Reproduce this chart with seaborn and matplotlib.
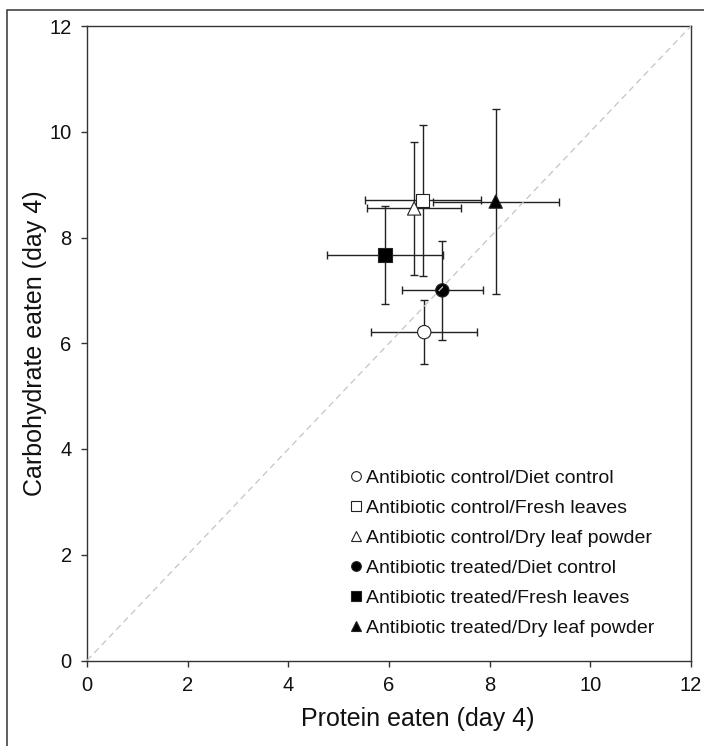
import numpy as np
import pandas as pd
import matplotlib
matplotlib.use("Agg")
import matplotlib.pyplot as plt
from matplotlib.lines import Line2D
from matplotlib.patches import Rectangle
import seaborn as sns

# ---- data ----
groups = [
    "Antibiotic control/Diet control",
    "Antibiotic control/Fresh leaves",
    "Antibiotic control/Dry leaf powder",
    "Antibiotic treated/Diet control",
    "Antibiotic treated/Fresh leaves",
    "Antibiotic treated/Dry leaf powder",
]
protein = [6.70, 6.67, 6.50, 7.06, 5.92, 8.12]
protein_err = [1.05, 1.15, 0.93, 0.80, 1.15, 1.25]
carbohydrate = [6.21, 8.70, 8.55, 7.00, 7.67, 8.68]
carbohydrate_err = [0.60, 1.43, 1.25, 0.93, 0.92, 1.75]
marker_shapes = ["o", "s", "^", "o", "s", "^"]
fill_colors = ["white", "white", "white", "black", "black", "black"]
axis_ticks = [0, 2, 4, 6, 8, 10, 12]

df = pd.DataFrame({"group": groups, "protein": protein, "carb": carbohydrate,
                   "perr": protein_err, "cerr": carbohydrate_err})

sns.set_theme(style="ticks")
plt.rcParams["font.family"] = ["Liberation Sans", "DejaVu Sans"]

fig = plt.figure(figsize=(7.04, 7.46), dpi=100)
ax = fig.add_axes([87/704, 1 - 660.5/746, (691-87)/704, (660.5-26)/746])

dark = "#222222"
# error bars
ax.errorbar(df["protein"], df["carb"], xerr=df["perr"], yerr=df["cerr"],
            fmt="none", ecolor=dark, elinewidth=1.0, capsize=2.7,
            capthick=1.0, zorder=2)

# markers
sns.scatterplot(data=df, x="protein", y="carb", hue="group", style="group",
                palette=dict(zip(groups, fill_colors)),
                markers=dict(zip(groups, marker_shapes)),
                s=92, edgecolor=dark, linewidth=0.8, legend=False, ax=ax, zorder=3)

# diagonal reference line
ax.plot([0, 12], [0, 12], color="#c4c4c4", lw=0.9, ls=(0, (5, 3.5)), zorder=4)

ax.set_xlim(0, 12)
ax.set_ylim(0, 12)
ax.set_xticks(axis_ticks)
ax.set_yticks(axis_ticks)
ax.tick_params(axis="both", labelsize=14.5, length=4, width=1.0, color="#333333",
               labelcolor="#111111")
ax.tick_params(axis="y", pad=7)
ax.tick_params(axis="x", pad=7.5)
for sp in ax.spines.values():
    sp.set_visible(True)
    sp.set_color("#333333")
    sp.set_linewidth(1.0)

ax.set_xlabel("Protein eaten (day 4)", fontsize=18, color="#111111", labelpad=8, x=0.548)
ax.set_ylabel("Carbohydrate eaten (day 4)", fontsize=18, color="#111111", labelpad=2)

handles = [Line2D([], [], linestyle="none", marker=m, markerfacecolor=c,
                  markeredgecolor=dark, markeredgewidth=0.8, markersize=7)
           for m, c in zip(marker_shapes, fill_colors)]
fig.legend(handles, groups, loc="upper left",
           bbox_to_anchor=(349/704, 1 - 469/746), bbox_transform=fig.transFigure,
           frameon=False, fontsize=14, handlelength=0.7, handletextpad=0.15,
           labelspacing=0.64, borderpad=0, borderaxespad=0, labelcolor="#111111")

# outer figure frame (top and left edges visible)
fig.patches.append(Rectangle((7/704, -0.05), 1.2, 1 - 10/746 + 0.05,
                             transform=fig.transFigure, fill=False,
                             edgecolor="#333333", linewidth=1.1))

fig.savefig("out.png", dpi=100)
